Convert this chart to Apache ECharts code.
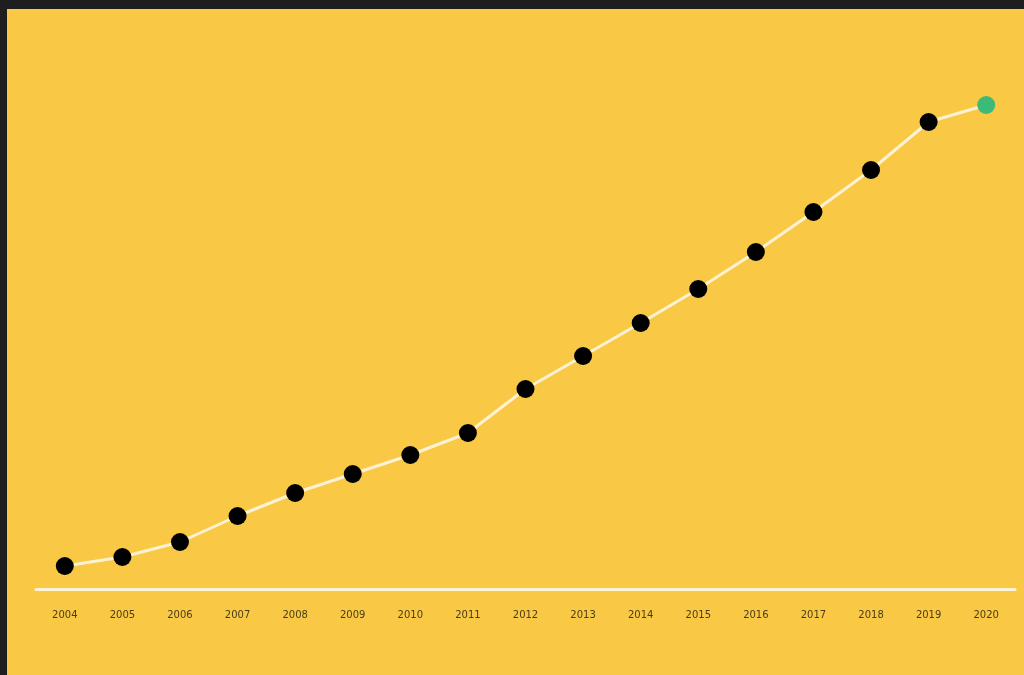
<!DOCTYPE html>
<html>
<head>
<meta charset="utf-8">
<script src="https://cdn.jsdelivr.net/npm/echarts@6/dist/echarts.min.js"></script>
<style>
  html, body { margin: 0; padding: 0; background: #1e1e1e; width: 1024px; height: 675px; overflow: hidden; }
  #main { position: absolute; left: 7px; top: 9px; width: 1017px; height: 666px; background: #f9c845; }
</style>
</head>
<body>
<div id="main"></div>
<script>
// years on x axis
var years = ['2004', '2005', '2006', '2007', '2008', '2009', '2010', '2011', '2012',
  '2013', '2014', '2015', '2016', '2017', '2018', '2019', '2020'];
// values (no y axis shown)
var values = [23, 32, 47, 73, 96, 115, 134, 156, 200, 233, 266, 300, 337, 377, 419, 467, 484];
var yMin = 0;
var yMax = 500;

var chart = echarts.init(document.getElementById('main'));

var pts = values.map(function (v, i) {
  if (i === values.length - 1) {
    return { value: v, itemStyle: { color: '#3dba77' } };
  }
  return v;
});

chart.setOption({
  backgroundColor: '#f9c845',
  animation: false,
  grid: {
    left: 29,
    right: 9,
    top: 80,
    bottom: 86
  },
  xAxis: {
    type: 'category',
    data: years,
    boundaryGap: true,
    axisLine: {
      show: true,
      lineStyle: { color: '#fff4d6', width: 3 }
    },
    axisTick: { show: false },
    axisLabel: {
      color: '#4a3c16',
      fontSize: 10,
      fontFamily: 'DejaVu Sans',
      margin: 21
    },
    splitLine: { show: false }
  },
  yAxis: {
    type: 'value',
    min: yMin,
    max: yMax,
    show: false,
    splitLine: { show: false }
  },
  series: [{
    type: 'line',
    data: pts,
    symbol: 'circle',
    symbolSize: 18,
    smooth: false,
    lineStyle: { color: '#fff2d2', width: 3 },
    itemStyle: { color: '#000000' },
    z: 3
  }]
});
</script>
</body>
</html>
